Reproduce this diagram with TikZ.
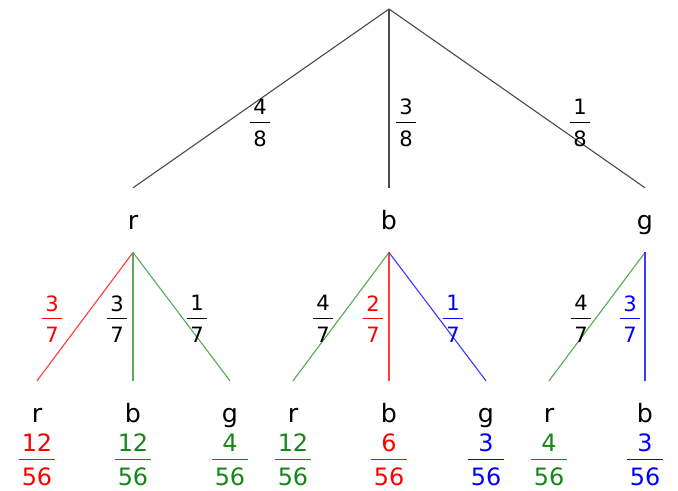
\documentclass[tikz,border=0pt]{standalone}
\usepackage{fontspec}
\setmainfont{DejaVu Sans}
\usepackage{xcolor}
\usepackage{tikz}
\definecolor{leafgreen}{RGB}{20,135,20}
\definecolor{linegreen}{RGB}{90,170,90}
\definecolor{linered}{RGB}{255,60,60}
\definecolor{lineblue}{RGB}{60,60,255}
\setlength{\arrayrulewidth}{1pt}
\newcommand{\stackfr}[2]{{\renewcommand{\arraystretch}{0}%
  \begin{tabular}{@{\hspace{2pt}}c@{\hspace{2pt}}}\rule[-5pt]{0pt}{5pt}#1\\\hline
  \rule{0pt}{\dimexpr\fontcharht\font`0+5.5pt\relax}#2\end{tabular}}}

\begin{document}
\begin{tikzpicture}[font=\fontsize{17}{20}\selectfont,
  letter/.style={anchor=base,inner sep=0pt,text height=22pt,text depth=8pt,outer sep=8pt,
    font=\fontsize{18}{21}\selectfont},
  edgefr/.style={font=\fontsize{15}{18}\selectfont,inner sep=0pt},
  leaffr/.style={inner sep=0pt},
  branch/.style={line width=0.8pt}]
  \useasboundingbox (0,0) rectangle (16.95,12.275);
  \coordinate (top) at (9.725,12.05);
  % first draw
  \foreach \n/\x/\a in {r/3.325/4, b/9.725/3, g/16.125/1}{
    \node[letter] (\n) at (\x,6.525) {\n};
    \draw[branch,black!70] (top) -- (\n.north);}
  \foreach \n/\x/\a in {r/6.5/4, b/10.15/3, g/14.5/1}{
    \node[edgefr] (f-\n) at (\x,9.2) {\stackfr{\a}{8}};}
  % second draw
  \foreach \p/\c/\x/\col/\num/\fcol in {r/r/0.925/linered/12/red, r/b/3.325/linegreen/12/leafgreen,
      r/g/5.75/linegreen/4/leafgreen, b/r/7.325/linegreen/12/leafgreen, b/b/9.725/linered/6/red,
      b/g/12.15/lineblue/3/blue, g/r/13.725/linegreen/4/leafgreen, g/b/16.125/lineblue/3/blue}{
    \node[letter] (\p\c) at (\x,1.7) {\c};
    \draw[branch,\col] (\p.south) -- (\p\c.north);
    \node[leaffr,text=\fcol] (\p\c-f) at (\x,0.775) {\stackfr{\num}{56}};}
  \foreach \p/\c/\x/\col/\a in {r/r/1.3/red/3, r/b/2.925/black/3, r/g/4.925/black/1,
      b/r/8.075/black/4, b/b/9.325/red/2, b/g/11.325/blue/1, g/r/14.525/black/4, g/b/15.75/blue/3}{
    \node[edgefr,text=\col] (f-\p\c) at (\x,4.3) {\stackfr{\a}{7}};}
\end{tikzpicture}
\end{document}
